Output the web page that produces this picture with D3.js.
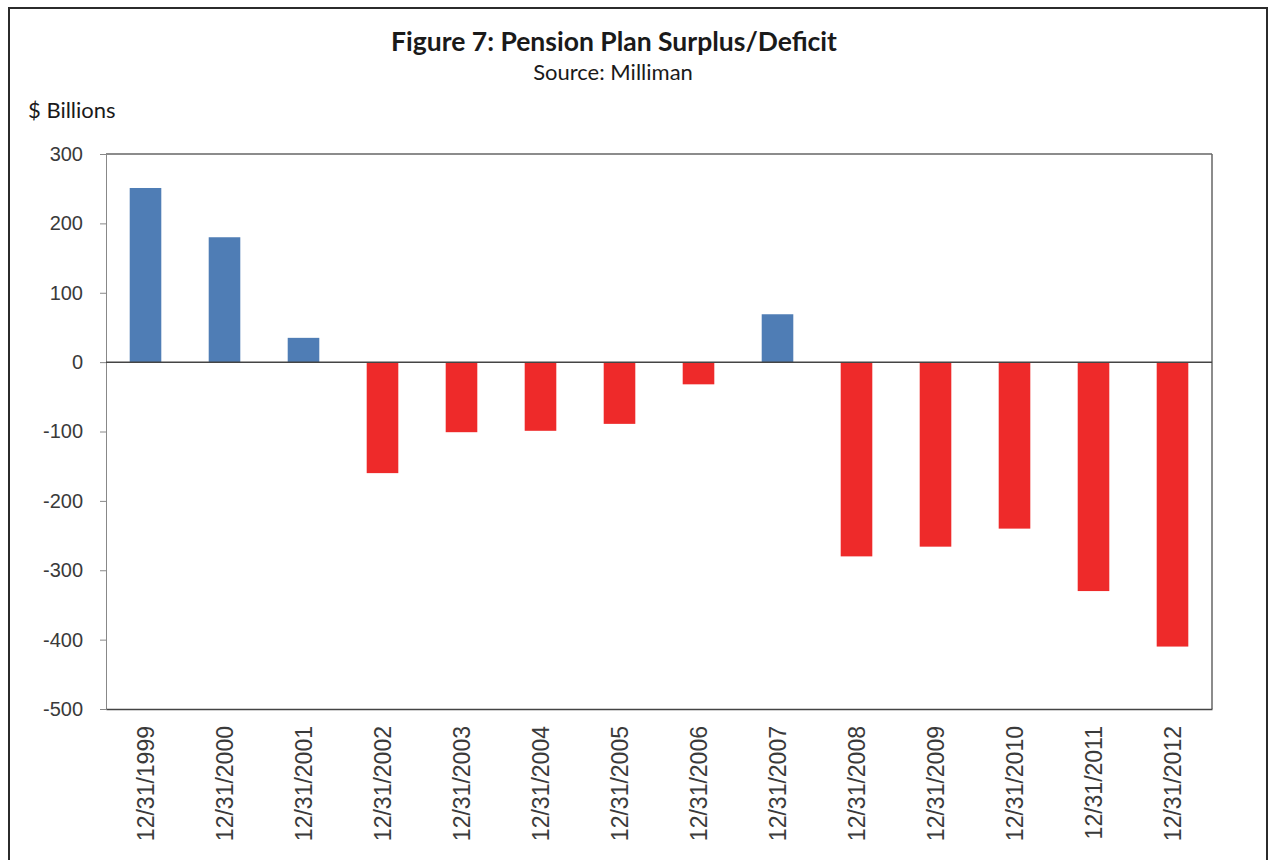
<!DOCTYPE html>
<html>
<head>
<meta charset="utf-8">
<script src="https://cdn.jsdelivr.net/npm/d3@7"></script>
<style>
  html, body { margin: 0; padding: 0; background: #fff; }
  #chart { width: 1270px; height: 860px; }
  .y-axis text, .x-axis text { font-family: "Liberation Sans", Arial, sans-serif; fill: #3a3a3a; }
</style>
</head>
<body>
<div id="chart"></div>
<script>
// chart data
var dates = ["12/31/1999", "12/31/2000", "12/31/2001", "12/31/2002", "12/31/2003",
  "12/31/2004", "12/31/2005", "12/31/2006", "12/31/2007", "12/31/2008",
  "12/31/2009", "12/31/2010", "12/31/2011", "12/31/2012"];
var surplus = [251, 180, 35, -160, -101, -99, -89, -32, 69, -280, -266, -240, -330, -410];
var yTicks = [300, 200, 100, 0, -100, -200, -300, -400, -500];

var W = 1270, H = 860;
var margin = { top: 154, right: 58, bottom: 151, left: 106 };
var width = W - margin.left - margin.right;
var height = H - margin.top - margin.bottom;

var svg = d3.select("#chart").append("svg")
  .attr("width", W)
  .attr("height", H);

// outer frame
svg.append("rect")
  .attr("x", 9).attr("y", 8)
  .attr("width", 1258).attr("height", 880)
  .attr("fill", "none")
  .attr("stroke", "#2b2b2b")
  .attr("stroke-width", 2);

// titles
svg.append("text")
  .attr("x", 614).attr("y", 51)
  .attr("text-anchor", "middle")
  .style("font-family", "Lato, 'Open Sans', sans-serif")
  .style("font-weight", "bold")
  .style("font-size", "26.5px")
  .attr("fill", "#1a1a1a")
  .text("Figure 7: Pension Plan Surplus/Deficit");

svg.append("text")
  .attr("x", 613).attr("y", 80)
  .attr("text-anchor", "middle")
  .style("font-family", "Lato, 'Open Sans', sans-serif")
  .style("font-size", "22px")
  .attr("fill", "#1a1a1a")
  .text("Source: Milliman");

svg.append("text")
  .attr("x", 28).attr("y", 118)
  .style("font-family", "Lato, 'Open Sans', sans-serif")
  .style("font-size", "22px")
  .attr("fill", "#1a1a1a")
  .text("$ Billions");

var g = svg.append("g")
  .attr("transform", "translate(" + margin.left + "," + margin.top + ")");

var x = d3.scaleBand().domain(dates).range([0, width])
  .paddingInner(0.6).paddingOuter(0.3);
var y = d3.scaleLinear().domain([-500, 300]).range([height, 0]);

// plot area frame (top and right)
g.append("line")
  .attr("x1", 0).attr("x2", width).attr("y1", 0).attr("y2", 0)
  .attr("stroke", "#666").attr("stroke-width", 1.5);
g.append("line")
  .attr("x1", width).attr("x2", width).attr("y1", 0).attr("y2", height)
  .attr("stroke", "#666").attr("stroke-width", 1.5);

// bars
g.selectAll(".bar")
  .data(surplus)
  .enter().append("rect")
  .attr("class", "bar")
  .attr("x", function(d, i) { return x(dates[i]); })
  .attr("width", x.bandwidth())
  .attr("y", function(d) { return y(Math.max(0, d)); })
  .attr("height", function(d) { return Math.abs(y(d) - y(0)); })
  .attr("fill", function(d) { return d >= 0 ? "#4f7db5" : "#ee2a2a"; });

// y axis, plain hyphen for negatives
var yAxis = g.append("g")
  .attr("class", "y-axis")
  .call(d3.axisLeft(y).tickValues(yTicks).tickSize(6).tickPadding(17).tickSizeOuter(0)
    .tickFormat(function(d) { return String(d); }));
yAxis.select(".domain").attr("stroke", "#888");
yAxis.selectAll(".tick line").attr("stroke", "#888");
yAxis.selectAll("text").style("font-size", "20px");

// zero line
g.append("line")
  .attr("x1", 0).attr("x2", width)
  .attr("y1", y(0)).attr("y2", y(0))
  .attr("stroke", "#444").attr("stroke-width", 1.5);

// x axis at bottom
var xAxis = g.append("g")
  .attr("class", "x-axis")
  .attr("transform", "translate(0," + height + ")")
  .call(d3.axisBottom(x).tickSize(0).tickPadding(0));
xAxis.select(".domain").attr("stroke", "#444").attr("stroke-width", 1.5);
xAxis.selectAll("text")
  .style("font-size", "23px")
  .attr("text-anchor", "end")
  .attr("transform", "rotate(-90)")
  .attr("x", -17)
  .attr("y", 0)
  .attr("dy", "0.36em");
</script>
</body>
</html>
